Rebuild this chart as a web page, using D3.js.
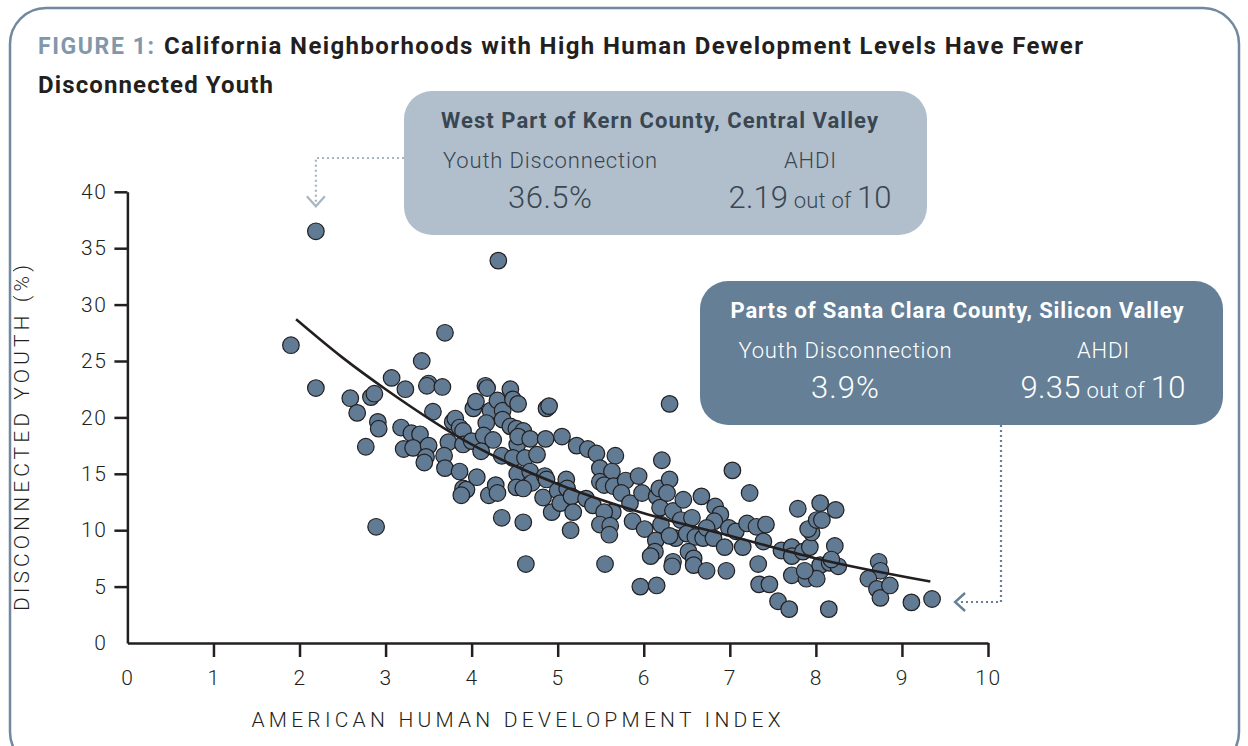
<!DOCTYPE html>
<html><head><meta charset="utf-8">
<script src="https://cdn.jsdelivr.net/npm/d3@7"></script>
<style>body{margin:0;background:#fff}svg{display:block}</style>
</head><body>
<svg id="c" width="1248" height="746"></svg>
<script>
// ---- data ----
const ahdi = [1.90,2.19,2.19,2.59,2.67,2.83,2.87,2.91,2.92,2.77,2.89,3.07,3.23,3.18,3.30,3.40,3.21,3.32,3.42,3.50,3.48,3.66,3.55,3.50,3.47,3.45,3.69,3.73,3.68,3.69,3.78,3.81,3.86,3.90,3.86,3.90,3.90,3.94,3.88,4.00,4.02,4.05,4.06,4.16,4.18,4.22,4.30,4.36,4.45,4.48,4.54,4.17,4.36,4.45,4.52,4.60,4.14,4.25,4.11,4.35,4.53,4.54,4.48,4.62,4.76,4.68,4.86,5.05,4.87,4.90,4.31,4.53,4.68,4.70,4.85,4.87,4.52,4.60,4.20,4.28,4.30,4.83,5.00,5.10,5.11,4.93,5.03,5.16,5.18,5.33,5.41,4.35,4.60,4.63,5.15,5.22,5.35,5.45,5.67,6.21,6.30,5.49,5.63,5.49,5.54,5.65,5.64,5.54,5.49,5.61,5.60,5.79,5.94,5.74,5.84,5.98,5.87,6.01,6.15,6.18,6.19,6.14,6.13,5.55,5.96,6.15,6.08,6.20,6.34,6.30,6.27,6.46,6.67,7.03,7.23,6.43,6.56,6.83,6.89,6.82,6.37,6.30,6.50,6.60,6.69,6.73,6.81,6.99,7.07,6.94,7.15,7.20,7.31,7.42,7.39,6.52,6.58,6.34,6.33,6.58,6.73,6.96,7.33,7.60,7.72,7.72,7.85,7.93,7.95,7.91,8.01,8.07,8.05,7.79,8.23,8.22,8.05,8.16,7.72,7.89,8.01,7.34,7.46,7.56,7.69,8.15,8.26,8.18,7.87,8.73,8.75,8.61,8.71,8.75,8.86,9.11,9.35];
const youth = [26.4,36.5,22.6,21.7,20.4,21.8,22.1,19.6,19.0,17.4,10.3,23.5,22.5,19.1,18.6,18.5,17.2,17.3,25.0,23.0,22.8,22.7,20.5,17.5,16.5,16.0,27.5,17.8,16.6,15.5,19.6,19.9,19.1,18.8,15.2,17.6,13.7,13.6,13.1,17.9,20.8,21.4,14.7,22.8,22.6,20.6,21.5,20.6,22.5,21.6,21.2,19.5,19.8,19.2,19.0,18.8,18.4,18.0,17.0,16.6,17.6,18.3,16.4,16.4,16.7,18.1,18.1,18.3,20.8,21.0,33.9,15.0,15.2,14.2,14.8,14.5,13.8,13.7,13.1,14.0,13.3,12.9,13.5,14.5,13.7,11.6,12.4,13.0,11.6,12.8,12.2,11.1,10.7,7.0,10.0,17.5,17.2,16.8,16.6,16.2,21.2,15.5,15.2,14.3,14.0,13.9,11.6,11.6,10.5,10.4,9.6,14.4,14.8,13.3,12.4,13.3,10.8,10.1,13.0,13.7,12.0,9.1,8.1,7.0,5.0,5.1,7.7,10.5,11.7,14.5,13.3,12.7,13.0,15.3,13.3,10.9,11.1,12.1,11.4,10.8,9.3,9.5,9.7,9.4,9.3,10.2,9.3,10.2,9.9,8.5,8.5,10.6,10.3,10.5,9.0,8.1,7.5,7.2,6.8,6.9,6.4,6.4,7.0,8.2,8.5,7.7,8.1,8.5,9.8,10.1,10.9,10.9,12.4,11.9,11.8,8.6,6.9,7.1,6.0,5.7,5.7,5.2,5.2,3.7,3.0,3.0,6.8,7.4,6.4,7.2,6.4,5.7,4.8,4.0,5.1,3.6,3.9];
const trendX = [1.96, 2.5, 3, 4, 5, 6, 7, 8, 9.33];
const trendY = [28.7, 25.3, 22.5, 17.6, 14.1, 11.5, 9.5, 7.5, 5.45];
const xTicks = [0,1,2,3,4,5,6,7,8,9,10];
const yTicks = [0,5,10,15,20,25,30,35,40];
const titleLead = "FIGURE 1:";
const titleLine1 = "California Neighborhoods with High Human Development Levels Have Fewer";
const titleLine2 = "Disconnected Youth";
const xTitle = "AMERICAN HUMAN DEVELOPMENT INDEX";
const yTitle = "DISCONNECTED YOUTH (%)";
const callout1 = {head:"West Part of Kern County, Central Valley", l1:"Youth Disconnection", v1:"36.5%", l2:"AHDI", v2:"2.19", of:"out of", max:"10"};
const callout2 = {head:"Parts of Santa Clara County, Silicon Valley", l1:"Youth Disconnection", v1:"3.9%", l2:"AHDI", v2:"9.35", of:"out of", max:"10"};

// ---- drawing ----
const svg = d3.select("#c");
const FONT = "Roboto, 'Noto Sans', sans-serif";
const dark = "#231f20";
const fit = (sel, len) => sel.attr("textLength", len).attr("lengthAdjust", "spacing");

svg.append("rect").attr("x",10).attr("y",8).attr("width",1229).attr("height",760)
  .attr("rx",36).attr("fill","none").attr("stroke","#7089a0").attr("stroke-width",2.5);

// title
fit(svg.append("text").attr("x",38).attr("y",54).attr("font-family",FONT)
  .attr("font-weight",700).attr("font-size",23).attr("fill","#8197aa").text(titleLead), 116);
fit(svg.append("text").attr("x",164).attr("y",54).attr("font-family",FONT)
  .attr("font-weight",700).attr("font-size",24).attr("fill",dark).text(titleLine1), 919);
fit(svg.append("text").attr("x",38).attr("y",93).attr("font-family",FONT)
  .attr("font-weight",700).attr("font-size",24).attr("fill",dark).text(titleLine2), 235);

const x = d3.scaleLinear().domain([0,10]).range([127.4, 988]);
const y = d3.scaleLinear().domain([0,40]).range([643, 191.8]);

// axes
const gx = svg.append("g").attr("transform","translate(0,643)")
  .call(d3.axisBottom(x).tickValues(xTicks).tickSize(14).tickSizeOuter(0).tickPadding(13).tickFormat(d3.format("d")));
const gy = svg.append("g").attr("transform","translate(127.4,0)")
  .call(d3.axisLeft(y).tickValues(yTicks).tickSize(13).tickSizeOuter(0).tickPadding(7).tickFormat(d3.format("d")));
[gx,gy].forEach(g=>{
  g.select(".domain").attr("stroke",dark).attr("stroke-width",2.5);
  g.selectAll(".tick line").attr("stroke",dark).attr("stroke-width",2.5);
  g.selectAll(".tick text").attr("fill",dark).attr("font-family",FONT).attr("font-weight",300)
    .attr("font-size",21).attr("letter-spacing","1.5px");
});
gx.selectAll(".tick").filter(d=>d===0).select("line").remove();
gy.selectAll(".tick").filter(d=>d===0).select("line").remove();

fit(svg.append("text").attr("x",516).attr("y",727).attr("text-anchor","middle")
  .attr("font-family",FONT).attr("font-weight",300).attr("font-size",21)
  .attr("fill",dark).text(xTitle), 529);
fit(svg.append("text").attr("transform","translate(29,438) rotate(-90)").attr("text-anchor","middle")
  .attr("font-family",FONT).attr("font-weight",300).attr("font-size",21)
  .attr("fill",dark).text(yTitle), 346);

// points
const pts = ahdi.map((a,i)=>({a, v:youth[i]}));
svg.append("g").selectAll("circle").data(pts).join("circle")
  .attr("cx",d=>x(d.a)).attr("cy",d=>y(d.v)).attr("r",8.3)
  .attr("fill","#607b93").attr("stroke",dark).attr("stroke-width",1.2);

// trend line
const trend = trendX.map((t,i)=>[t,trendY[i]]);
svg.append("path").datum(trend)
  .attr("d", d3.line().x(d=>x(d[0])).y(d=>y(d[1])).curve(d3.curveMonotoneX))
  .attr("fill","none").attr("stroke",dark).attr("stroke-width",2.6);

// connectors
function dotted(pathD, color){
  svg.append("path").attr("d",pathD).attr("fill","none").attr("stroke",color)
    .attr("stroke-width",2.2).attr("stroke-dasharray","2,3");
}
const p1 = [x(2.19), y(36.5)];
dotted(`M404,158 H${p1[0]} V${p1[1]-26}`, "#a8b5c2");
svg.append("path").attr("d",`M${p1[0]-9},${p1[1]-35} L${p1[0]},${p1[1]-25} L${p1[0]+9},${p1[1]-35}`)
  .attr("fill","none").attr("stroke","#a8b5c2").attr("stroke-width",2.2);
const p2 = [x(9.35), y(3.9)];
dotted(`M1001,425 V${p2[1]+3} H${p2[0]+28}`, "#647f97");
svg.append("path").attr("d",`M${p2[0]+33},${p2[1]-6} L${p2[0]+23},${p2[1]+3} L${p2[0]+33},${p2[1]+12}`)
  .attr("fill","none").attr("stroke","#647f97").attr("stroke-width",2.4);

// callouts
function callout(c, bx, by, fill, color, headX, headAnchor, headLen, c1, c2, w){
  svg.append("rect").attr("x",bx).attr("y",by).attr("width",523).attr("height",144)
    .attr("rx",28).attr("fill",fill);
  fit(svg.append("text").attr("x",headX).attr("y",by+37).attr("text-anchor",headAnchor)
    .attr("font-family",FONT).attr("font-weight",700).attr("font-size",22).attr("fill",color).text(c.head), headLen);
  const lab = (txt,cx,yy,len)=>fit(svg.append("text").attr("x",cx).attr("y",yy).attr("text-anchor","middle")
    .attr("font-family",FONT).attr("font-weight",300).attr("font-size",22).attr("fill",color).text(txt), len);
  lab(c.l1,c1,by+77,w[0]); lab(c.l2,c2,by+77,w[1]);
  fit(svg.append("text").attr("x",c1).attr("y",by+117).attr("text-anchor","middle")
    .attr("font-family",FONT).attr("font-weight",300).attr("font-size",31).attr("fill",color).text(c.v1), w[2]);
  const v = svg.append("text").attr("x",c2).attr("y",by+117).attr("text-anchor","middle")
    .attr("font-family",FONT).attr("font-weight",300).attr("font-size",31).attr("fill",color);
  v.append("tspan").text(c.v2);
  v.append("tspan").attr("font-size",22).text(" "+c.of+" ");
  v.append("tspan").text(c.max);
  fit(v, w[3]);
}
callout(callout1, 404, 91, "#b1bfcc", "#3a4651", 441, "start", 437, 550, 810, [214, 52, 84, 163]);
callout(callout2, 700, 281, "#657f97", "#ffffff", 957, "middle", 453, 845, 1103, [213, 52, 68, 165]);
</script>
</body></html>
